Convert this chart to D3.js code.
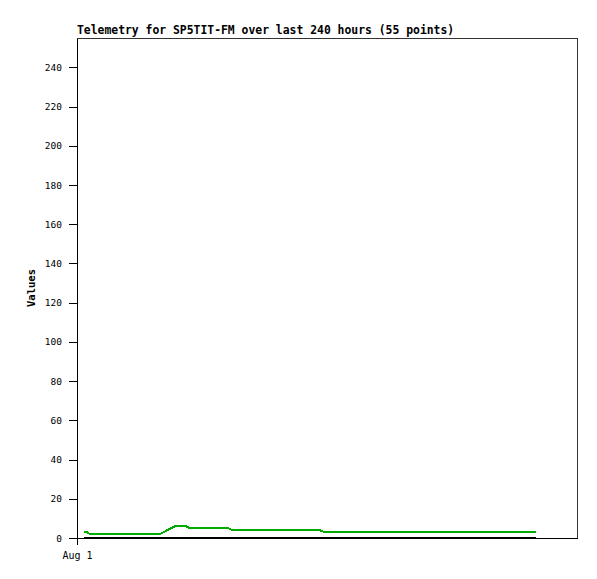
<!DOCTYPE html>
<html>
<head>
<meta charset="utf-8">
<script src="https://cdn.jsdelivr.net/npm/d3@7"></script>
<style>
  html, body { margin: 0; padding: 0; background: #fff; }
  svg { display: block; }
</style>
</head>
<body>
<svg id="chart" width="597" height="579"></svg>
<script>
// ---- data ----
const titleText = "Telemetry for SP5TIT-FM over last 240 hours (55 points)";
const yLabel = "Values";
const startDate = new Date(2024, 7, 1, 0, 0);          // Aug 1
const endDate = new Date(2024, 7, 11, 0, 0);            // +240 h
const xTickDates = [new Date(2024, 7, 1, 0, 0)];
const xTickLabels = ["Aug 1"];
const yTicks = [0, 20, 40, 60, 80, 100, 120, 140, 160, 180, 200, 220, 240];
const yMax = 255;
// hours since Aug 1 00:00 of the visible vertices
const hours   = [3.5, 4.8, 6.2, 39.8, 47.0, 52.3, 54.2, 72.5, 74.7, 116.6, 118.6, 220.2];
const green   = [3,   3,   2,   2,    6,    6,    5,    5,    4,    4,     3,     3];
const black   = [0,   0,   0,   0,    0,    0,    0,    0,    0,    0,     0,     0];

// ---- layout ----
const svg = d3.select("#chart");
const L = 77, R = 577, T = 38, B = 538;

const x = d3.scaleTime().domain([startDate, endDate]).range([L, R]);
const y = d3.scaleLinear().domain([0, yMax]).range([B, T]);
const toDate = h => new Date(startDate.getTime() + h * 3600e3);

// frame
svg.append("rect")
  .attr("x", L).attr("y", T).attr("width", R - L).attr("height", B - T)
  .attr("fill", "none").attr("stroke", "#333").attr("shape-rendering", "crispEdges");

// y axis
const yAxis = svg.append("g").attr("transform", `translate(${L},0)`)
  .call(d3.axisLeft(y).tickValues(yTicks).tickSize(8).tickSizeOuter(0).tickPadding(7).tickFormat(d3.format("d")));
yAxis.select(".domain").attr("stroke", "#000").attr("shape-rendering", "crispEdges");
yAxis.selectAll(".tick line").attr("stroke", "#000").attr("shape-rendering", "crispEdges");
yAxis.selectAll("text").attr("font-family", "DejaVu Sans Mono, monospace").attr("font-size", "9.5px").attr("fill", "#000");

// x axis
const xAxis = svg.append("g").attr("transform", `translate(0,${B})`)
  .call(d3.axisBottom(x).tickValues(xTickDates).tickSize(7).tickSizeOuter(0).tickPadding(7)
    .tickFormat((d, i) => xTickLabels[i]));
xAxis.select(".domain").attr("stroke", "#000").attr("shape-rendering", "crispEdges");
xAxis.selectAll(".tick line").attr("stroke", "#000").attr("shape-rendering", "crispEdges");
xAxis.selectAll("text").attr("font-family", "DejaVu Sans Mono, monospace").attr("font-size", "10px").attr("fill", "#000");

// series
const line = d3.line().x((d, i) => x(toDate(hours[i]))).y(d => y(d));
svg.append("path").datum(black)
  .attr("d", line).attr("fill", "none").attr("stroke", "#000").attr("stroke-width", 2)
  .attr("shape-rendering", "crispEdges");
svg.append("path").datum(green)
  .attr("d", line).attr("fill", "none").attr("stroke", "#00aa00").attr("stroke-width", 2)
  .attr("shape-rendering", "crispEdges");

// title
svg.append("text").attr("x", L).attr("y", 34)
  .attr("font-family", "DejaVu Sans Mono, monospace").attr("font-weight", "bold")
  .attr("font-size", "11.4px").attr("fill", "#000").text(titleText);

// y label
svg.append("text").attr("transform", `translate(35,${(T + B) / 2}) rotate(-90)`)
  .attr("text-anchor", "middle")
  .attr("font-family", "DejaVu Sans Mono, monospace").attr("font-weight", "bold")
  .attr("font-size", "10.5px").attr("fill", "#000").text(yLabel);
</script>
</body>
</html>
